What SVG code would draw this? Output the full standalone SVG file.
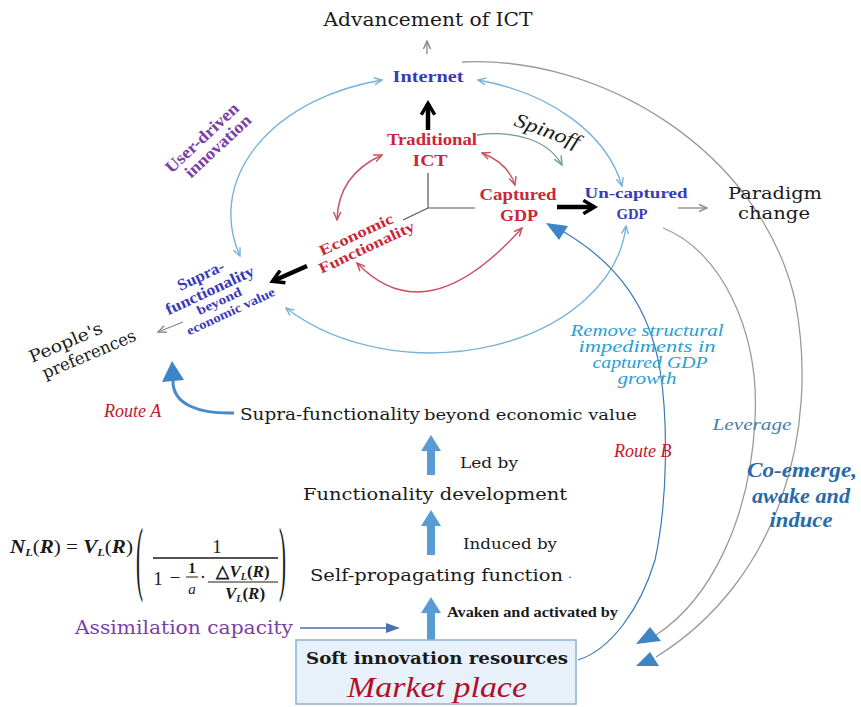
<svg xmlns="http://www.w3.org/2000/svg" width="861" height="707" viewBox="0 0 861 707">
<defs>
<style>
text{font-family:"Liberation Serif","Times New Roman",serif;fill:#1a1a1a}
.dv{font-family:"DejaVu Serif","Liberation Serif",serif}
.bl{fill:#3a3ab8;font-weight:bold}
.rd{fill:#c8283a;font-weight:bold}
.pu{fill:#7b3fa8}
.it{font-style:italic}
.route{fill:#c0182a;font-style:italic}
.rm{fill:#2aa0d0;font-style:italic}
.co{fill:#2a6aa8;font-style:italic;font-weight:bold}
.arcB{fill:none;stroke:#78b2da;stroke-width:1.4}
.arcR{fill:none;stroke:#c85060;stroke-width:1.4}
.arcG{fill:none;stroke:#9a9a9a;stroke-width:1.3}
.thick{fill:none;stroke:#000;stroke-width:4.5}
.thin{fill:none;stroke:#888;stroke-width:1.3}
.block{fill:#5b9bd5}
.tri{fill:#3d85c6}
.ctr{fill:none;stroke:#555;stroke-width:1.2}
</style>
<marker id="mB" viewBox="0 0 10 10" refX="9" refY="5" markerWidth="9" markerHeight="9" markerUnits="userSpaceOnUse" orient="auto-start-reverse"><path d="M0,1 L9,5 L0,9" fill="none" stroke="#78b2da" stroke-width="1.6"/></marker>
<marker id="mR" viewBox="0 0 10 10" refX="9" refY="5" markerWidth="9" markerHeight="9" markerUnits="userSpaceOnUse" orient="auto-start-reverse"><path d="M0,1 L9,5 L0,9" fill="none" stroke="#c85060" stroke-width="1.6"/></marker>
<marker id="mG" viewBox="0 0 10 10" refX="9" refY="5" markerWidth="9" markerHeight="9" markerUnits="userSpaceOnUse" orient="auto-start-reverse"><path d="M0,1 L9,5 L0,9" fill="none" stroke="#888" stroke-width="1.6"/></marker>
<marker id="mS" viewBox="0 0 10 10" refX="9" refY="5" markerWidth="10" markerHeight="10" markerUnits="userSpaceOnUse" orient="auto"><path d="M0,1 L9,5 L0,9" fill="none" stroke="#7aa0b0" stroke-width="1.6"/></marker>
<marker id="mK" viewBox="0 0 12 12" refX="9" refY="6" markerWidth="16" markerHeight="16" markerUnits="userSpaceOnUse" orient="auto"><path d="M1,1 L9.5,6 L1,11" fill="none" stroke="#000" stroke-width="2.6"/></marker>
</defs>
<rect width="861" height="707" fill="#fff"/>

<g id="connectors">
  <path class="arcB" d="M382 80 A196 138 0 0 0 240 256" marker-start="url(#mB)" marker-end="url(#mB)"/>
  <path class="arcB" d="M478 80 A196 138 0 0 1 622 186" marker-start="url(#mB)" marker-end="url(#mB)"/>
  <path class="arcB" d="M286 308 A196 138 0 0 0 626 226" marker-start="url(#mB)" marker-end="url(#mB)"/>
  <path class="arcR" d="M382 155 Q338 175 337 220" marker-start="url(#mR)" marker-end="url(#mR)"/>
  <path class="arcR" d="M482 153 Q508 163 515 185" marker-start="url(#mR)" marker-end="url(#mR)"/>
  <path class="arcR" d="M357 263 Q426 335 522 228" marker-start="url(#mR)" marker-end="url(#mR)"/>
  <path d="M477 135 C515 130 548 140 562 165" fill="none" stroke="#6c9c8c" stroke-width="1.3" marker-end="url(#mS)"/>
  <path class="ctr" d="M428 173 V208 H475 M428 208 L403 220"/>
  <path class="thick" d="M428 130 V104" marker-end="url(#mK)"/>
  <path class="thick" d="M557 207 H594" marker-end="url(#mK)"/>
  <path class="thick" d="M307 266 L273 281" marker-end="url(#mK)"/>
  <path class="thin" d="M427 54 V41" marker-end="url(#mG)"/>
  <path class="thin" d="M678 208 H707" marker-end="url(#mG)"/>
  <path class="thin" d="M183 322 L158 332" marker-end="url(#mG)"/>
  <path class="arcG" d="M462 62 C600 55 760 150 795 300 C820 430 780 580 656 657"/>
  <path class="arcG" d="M663 228 C720 250 760 330 755 420 C750 520 710 600 656 635"/>
  <polygon class="tri" points="636,644 661,641 650,627"/>
  <polygon class="tri" points="636,666 659,666 650,652"/>
  <path d="M578 660 C610 650 640 610 655 560 C668 500 668 420 660 370 C650 310 620 265 564 232" fill="none" stroke="#3a78b8" stroke-width="1.2"/>
  <polygon class="tri" points="546,223 568,226 559,240"/>
  <path d="M234 413 C200 414 172 405 173 380" fill="none" stroke="#4a8ac8" stroke-width="3"/>
  <polygon class="tri" points="172,361 162,382 184,380"/>
  <polygon class="block" points="427,475 427,451 421,451 431,435 441,451 435,451 435,475"/>
  <polygon class="block" points="427,555 427,526 421,526 431,510 441,526 435,526 435,555"/>
  <polygon class="block" points="427,640 427,613 421,613 431,597 441,613 435,613 435,640"/>
  <path d="M300 628 H388" fill="none" stroke="#4a6fb5" stroke-width="1.5"/>
  <polygon points="386,623 400,628 386,633" fill="#4a6fb5"/>
</g>

<g id="advancement"><text class="dv" x="428" y="26" text-anchor="middle" font-size="18" textLength="209" lengthAdjust="spacingAndGlyphs">Advancement of ICT</text></g>
<g id="internet"><text class="bl" x="428" y="82" text-anchor="middle" font-size="16" textLength="71" lengthAdjust="spacingAndGlyphs">Internet</text></g>
<g id="traditional-ict">
  <text class="rd" x="432" y="145" text-anchor="middle" font-size="16" textLength="90" lengthAdjust="spacingAndGlyphs">Traditional</text>
  <text class="rd" x="430" y="166" text-anchor="middle" font-size="16" textLength="35" lengthAdjust="spacingAndGlyphs">ICT</text>
</g>
<g id="spinoff"><text class="it" transform="translate(545,137) rotate(20)" text-anchor="middle" font-size="20" textLength="68" lengthAdjust="spacingAndGlyphs">Spinoff</text></g>
<g id="captured-gdp">
  <text class="rd" x="518" y="200" text-anchor="middle" font-size="16" textLength="77" lengthAdjust="spacingAndGlyphs">Captured</text>
  <text class="rd" x="519" y="221" text-anchor="middle" font-size="16" textLength="38" lengthAdjust="spacingAndGlyphs">GDP</text>
</g>
<g id="uncaptured-gdp">
  <text class="bl" x="636" y="198" text-anchor="middle" font-size="15" textLength="103" lengthAdjust="spacingAndGlyphs">Un-captured</text>
  <text class="bl" x="632" y="219" text-anchor="middle" font-size="15" textLength="31" lengthAdjust="spacingAndGlyphs">GDP</text>
</g>
<g id="paradigm">
  <text class="dv" x="775" y="199" text-anchor="middle" font-size="17" textLength="94" lengthAdjust="spacingAndGlyphs">Paradigm</text>
  <text class="dv" x="774" y="219" text-anchor="middle" font-size="17" textLength="72" lengthAdjust="spacingAndGlyphs">change</text>
</g>
<g id="economic-functionality" transform="translate(361,240) rotate(-25)">
  <text class="rd" x="-2" y="-2" text-anchor="middle" font-size="15" textLength="80" lengthAdjust="spacingAndGlyphs">Economic</text>
  <text class="rd" x="2" y="14" text-anchor="middle" font-size="15" textLength="104" lengthAdjust="spacingAndGlyphs">Functionality</text>
</g>
<g id="user-driven" transform="translate(210,142) rotate(-43)">
  <text class="pu" x="-3" y="-3" text-anchor="middle" font-size="17" font-weight="bold" textLength="94" lengthAdjust="spacingAndGlyphs">User-driven</text>
  <text class="pu" x="3" y="14" text-anchor="middle" font-size="17" font-weight="bold" textLength="84" lengthAdjust="spacingAndGlyphs">innovation</text>
</g>
<g id="supra-label" transform="translate(212,295) rotate(-25)">
  <text class="bl" x="-2" y="-17" text-anchor="middle" font-size="16" textLength="50" lengthAdjust="spacingAndGlyphs">Supra-</text>
  <text class="bl" x="0" y="0" text-anchor="middle" font-size="16" textLength="96" lengthAdjust="spacingAndGlyphs">functionality</text>
  <text class="bl" x="4" y="13" text-anchor="middle" font-size="13" textLength="48" lengthAdjust="spacingAndGlyphs">beyond</text>
  <text class="bl" x="10" y="27" text-anchor="middle" font-size="13" textLength="96" lengthAdjust="spacingAndGlyphs">economic value</text>
</g>
<g id="peoples-preferences" transform="translate(32,363) rotate(-23)">
  <text class="dv" x="0" y="0" font-size="17" textLength="78" lengthAdjust="spacingAndGlyphs">People's</text>
  <text class="dv" x="6" y="20" font-size="17" textLength="100" lengthAdjust="spacingAndGlyphs">preferences</text>
</g>
<g id="route-a"><text class="route" x="104" y="417" font-size="18">Route A</text></g>
<g id="route-b"><text class="route" x="614" y="457" font-size="18">Route B</text></g>
<g id="remove-impediments" font-size="16">
  <text class="rm" x="647" y="336" text-anchor="middle" textLength="153" lengthAdjust="spacingAndGlyphs">Remove structural</text>
  <text class="rm" x="647" y="352" text-anchor="middle" textLength="137" lengthAdjust="spacingAndGlyphs">impediments in</text>
  <text class="rm" x="650" y="368" text-anchor="middle" textLength="115" lengthAdjust="spacingAndGlyphs">captured GDP</text>
  <text class="rm" x="647" y="384" text-anchor="middle" textLength="59" lengthAdjust="spacingAndGlyphs">growth</text>
</g>
<g id="leverage"><text x="752" y="430" text-anchor="middle" font-size="16" style="fill:#4a80a8;font-style:italic" textLength="79" lengthAdjust="spacingAndGlyphs">Leverage</text></g>
<g id="co-emerge" font-size="22">
  <text class="co" x="802" y="477" text-anchor="middle" textLength="110" lengthAdjust="spacingAndGlyphs">Co-emerge,</text>
  <text class="co" x="801" y="503" text-anchor="middle" textLength="98" lengthAdjust="spacingAndGlyphs">awake and</text>
  <text class="co" x="801" y="527" text-anchor="middle" textLength="63" lengthAdjust="spacingAndGlyphs">induce</text>
</g>
<g id="supra-functionality-node">
  <text class="dv" x="240" y="420" font-size="17" textLength="180" lengthAdjust="spacingAndGlyphs">Supra-functionality</text>
  <text class="dv" x="424" y="420" font-size="14" textLength="213" lengthAdjust="spacingAndGlyphs">beyond economic value</text>
</g>
<g id="led-by"><text class="dv" x="460" y="468" font-size="14" textLength="58" lengthAdjust="spacingAndGlyphs">Led by</text></g>
<g id="functionality-development"><text class="dv" x="303" y="500" font-size="17" textLength="264" lengthAdjust="spacingAndGlyphs">Functionality development</text></g>
<g id="induced-by"><text class="dv" x="463" y="549" font-size="14" textLength="94" lengthAdjust="spacingAndGlyphs">Induced by</text></g>
<g id="self-propagating"><text class="dv" x="310" y="581" font-size="17" textLength="253" lengthAdjust="spacingAndGlyphs">Self-propagating function</text><text x="568" y="581" font-size="12">·</text></g>
<g id="avaken"><text x="447" y="617" font-size="15" font-weight="bold" textLength="171" lengthAdjust="spacingAndGlyphs">Avaken and activated by</text></g>
<g id="formula" font-size="19">
  <text x="10" y="553" font-style="italic" font-weight="bold" textLength="123" lengthAdjust="spacingAndGlyphs">N<tspan font-size="11" dy="3">L</tspan><tspan dy="-3" font-style="normal" font-weight="normal">(</tspan>R<tspan font-style="normal" font-weight="normal">) = </tspan>V<tspan font-size="11" dy="3">L</tspan><tspan dy="-3" font-style="normal" font-weight="normal">(</tspan>R<tspan font-style="normal" font-weight="normal">)</tspan></text>
  <text transform="translate(136,585) scale(1,3.9)" font-size="21">(</text>
  <text x="217" y="553" text-anchor="middle">1</text>
  <line x1="153" y1="558" x2="278" y2="558" stroke="#1a1a1a" stroke-width="1.3"/>
  <text x="158" y="585" text-anchor="middle">1</text>
  <text x="175" y="584" text-anchor="middle">−</text>
  <text x="192" y="573" text-anchor="middle" font-size="15" font-weight="bold">1</text>
  <line x1="186" y1="577" x2="198" y2="577" stroke="#1a1a1a" stroke-width="1"/>
  <text x="192" y="594" text-anchor="middle" font-size="15" font-style="italic">a</text>
  <text x="203" y="583" text-anchor="middle">·</text>
  <text x="243" y="577" text-anchor="middle" font-size="17" font-weight="bold">△<tspan font-style="italic">V</tspan><tspan font-size="10" dy="3" font-style="italic">L</tspan><tspan dy="-3">(</tspan><tspan font-style="italic">R</tspan>)</text>
  <line x1="208" y1="582" x2="278" y2="582" stroke="#1a1a1a" stroke-width="1.1"/>
  <text x="245" y="599" text-anchor="middle" font-size="17" font-weight="bold"><tspan font-style="italic">V</tspan><tspan font-size="10" dy="3" font-style="italic">L</tspan><tspan dy="-3">(</tspan><tspan font-style="italic">R</tspan>)</text>
  <text transform="translate(279,585) scale(1,3.9)" font-size="21">)</text>
</g>
<g id="assimilation"><text class="dv pu" x="75" y="634" font-size="18" textLength="218" lengthAdjust="spacingAndGlyphs">Assimilation capacity</text></g>
<g id="market-place">
  <rect x="296" y="640" width="280" height="64" fill="#e8f1f9" stroke="#8ab4d4" stroke-width="1.5"/>
  <text class="dv" x="437" y="664" text-anchor="middle" font-size="16" font-weight="bold" textLength="262" lengthAdjust="spacingAndGlyphs">Soft innovation resources</text>
  <text x="437" y="697" text-anchor="middle" font-size="29" font-style="italic" style="fill:#b0102a" textLength="180" lengthAdjust="spacingAndGlyphs">Market place</text>
</g>
</svg>
